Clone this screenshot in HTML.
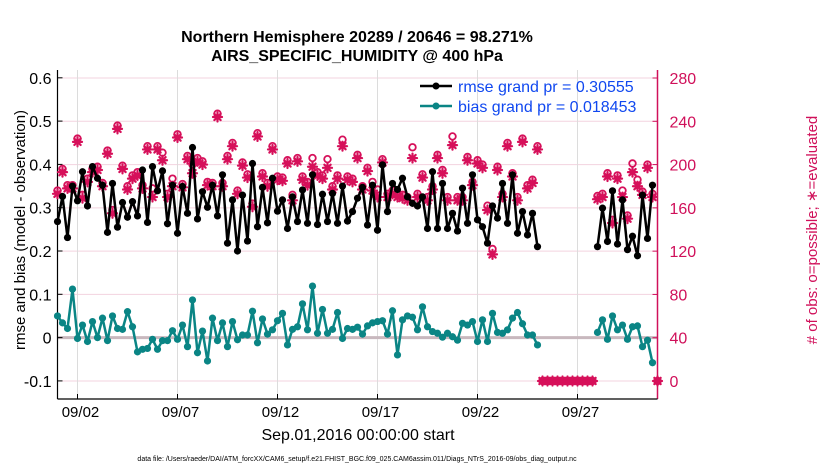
<!DOCTYPE html>
<html><head><meta charset="utf-8"><style>
html,body{margin:0;padding:0;background:#fff;}
svg{display:block;font-family:"Liberation Sans",Arial,sans-serif;}
</style></head><body>
<svg id="chart" width="830" height="470" viewBox="0 0 830 470">
<g id="grid"></g>
<g id="axes"></g>
<g id="marks"></g>
<text x="357" y="42" text-anchor="middle" font-size="16" font-weight="bold">Northern Hemisphere 20289 / 20646 = 98.271%</text>
<text x="357" y="61" text-anchor="middle" font-size="16" font-weight="bold">AIRS_SPECIFIC_HUMIDITY @ 400 hPa</text>
<text transform="translate(25,230) rotate(-90)" text-anchor="middle" font-size="15">rmse and bias (model - observation)</text>
<text transform="translate(817,230) rotate(-90)" text-anchor="middle" font-size="15" fill="#d0105a"># of obs: o=possible; ∗=evaluated</text>
<text x="358" y="440" text-anchor="middle" font-size="16">Sep.01,2016 00:00:00 start</text>
<text x="357" y="461" text-anchor="middle" font-size="7">data file: /Users/raeder/DAI/ATM_forcXX/CAM6_setup/f.e21.FHIST_BGC.f09_025.CAM6assim.011/Diags_NTrS_2016-09/obs_diag_output.nc</text>
<g>
<line x1="420" y1="86" x2="452" y2="86" stroke="#000" stroke-width="2.5"/>
<circle cx="436" cy="86" r="3.5" fill="#000"/>
<text x="458" y="92" font-size="16" fill="#1048f0">rmse grand pr = 0.30555</text>
<line x1="420" y1="106" x2="452" y2="106" stroke="#0a8585" stroke-width="2.5"/>
<circle cx="436" cy="106" r="3.5" fill="#0a8585"/>
<text x="458" y="112" font-size="16" fill="#1048f0">bias grand pr = 0.018453</text>
</g>
</svg>
<script>
const leftTicks = [0.6,0.5,0.4,0.3,0.2,0.1,0,-0.1];
const leftTickLabels = ["0.6","0.5","0.4","0.3","0.2","0.1","0","-0.1"];
const rightTicks = [0,40,80,120,160,200,240,280];
const xTickDays = [1,6,11,16,21,26];
const xTickLabels = ["09/02","09/07","09/12","09/17","09/22","09/27"];
const rmse = [0.268,0.326,0.231,0.350,0.316,0.383,0.304,0.395,0.368,0.352,0.243,0.356,0.255,0.312,0.278,0.314,0.281,0.387,0.266,0.395,0.339,0.385,0.263,0.352,0.241,0.349,0.287,0.439,0.274,0.337,0.301,0.352,0.281,0.376,0.218,0.318,0.200,0.329,0.223,0.402,
0.256,0.347,0.265,0.368,0.292,0.318,0.252,0.325,0.268,0.341,0.264,0.376,0.261,0.331,0.268,0.333,0.264,0.350,0.269,0.291,0.322,0.347,0.260,0.352,0.248,0.399,0.291,0.356,0.342,0.368,0.325,0.310,0.304,0.325,0.252,0.383,0.252,0.356,
0.252,0.287,0.246,0.345,0.264,0.376,0.272,0.256,0.218,0.304,0.276,0.356,0.264,0.376,0.241,0.291,0.237,0.287,0.210,
null,null,null,null,null,null,null,null,null,null,null,
0.210,0.299,0.222,0.339,0.216,0.318,0.203,0.234,0.189,0.329,0.229,0.352,null];
const bias = [0.050,0.034,0.021,0.112,-0.002,0.029,-0.009,0.037,0.000,0.045,-0.007,0.050,0.021,0.019,0.060,0.025,-0.033,-0.027,-0.025,-0.004,-0.027,-0.007,-0.007,0.016,-0.004,0.029,-0.021,0.087,-0.035,0.015,-0.054,0.045,-0.007,0.034,-0.021,0.037,-0.005,0.006,0.006,0.061,
-0.012,0.043,0.008,0.018,0.039,0.056,-0.017,0.019,0.025,0.078,0.018,0.119,0.010,0.065,0.010,0.019,0.058,-0.002,0.021,0.019,0.024,0.008,0.027,0.034,0.037,0.039,0.008,0.062,-0.040,0.041,0.050,0.047,0.018,0.071,0.025,0.014,0.010,0.001,
0.010,0.002,-0.006,0.033,0.029,0.037,-0.009,0.041,-0.009,0.056,0.012,0.010,0.018,0.045,0.058,0.032,0.006,0.006,-0.017,
null,null,null,null,null,null,null,null,null,null,null,
0.012,0.041,-0.004,0.050,0.018,0.029,-0.004,0.025,0.027,-0.021,-0.006,-0.058,null];
const evaluated = [173,193,178,178,221,169,184,193,195,180,210,155,233,196,177,187,190,178,214,170,214,204,170,180,225,179,205,192,203,200,181,180,244,180,205,217,173,199,188,161,
226,189,180,214,186,185,201,167,203,186,181,198,190,187,197,177,187,217,186,184,206,177,194,176,170,202,170,173,170,169,167,206,170,188,167,177,206,192,
167,218,167,167,204,181,201,197,158,117,195,170,217,189,167,221,178,183,214,
0,0,0,0,0,0,0,0,0,0,0,
168,170,189,146,187,170,150,193,180,172,197,170,0];
const possible = [176,196,181,181,224,172,187,196,198,183,213,158,236,199,180,190,193,181,217,178,217,211,173,187,228,182,208,200,206,203,184,183,247,183,208,220,176,202,191,164,
229,192,183,217,189,188,204,172,206,189,184,206,193,190,205,180,190,223,189,187,209,180,197,184,177,205,173,176,173,172,170,216,173,191,170,180,209,195,
170,226,170,170,207,184,204,200,162,122,198,173,220,192,170,224,181,186,217,
0,0,0,0,0,0,0,0,0,0,0,
171,173,192,149,190,176,153,201,186,175,200,173,0];

const NS="http://www.w3.org/2000/svg";
const X0=57.5, X1=657.5, YT=70, YB=399;
function xIdx(i){return X0 + i*(X1-X0)/120;}
function xDay(d){return X0 + d*20;}
function yL(v){return 337.6 - v*433;}
function yR(n){return 381 - n*1.0821;}
function mk(tag,attrs,parent){const e=document.createElementNS(NS,tag);for(const k in attrs)e.setAttribute(k,attrs[k]);parent.appendChild(e);return e;}
const grid=document.getElementById('grid'), axes=document.getElementById('axes'), marks=document.getElementById('marks');

rightTicks.forEach(function(n){
  const l=mk('line',{x1:X0,x2:X1,y1:yR(n),y2:yR(n),stroke:'#f3d3df','stroke-width':1},grid);
  
  
});
xTickDays.forEach(function(d){
  const l=mk('line',{x1:xDay(d),x2:xDay(d),y1:YT,y2:YB,stroke:'#dcdcdc','stroke-width':1},grid);
  
  
});
const z=mk('line',{x1:X0,x2:X1,y1:yL(0),y2:yL(0),stroke:'#c8b8be','stroke-width':3},grid);



const la=mk('line',{x1:X0,x2:X0,y1:YT,y2:YB,stroke:'#000','stroke-width':1.2},axes);


const ra=mk('line',{x1:X1,x2:X1,y1:YT,y2:YB,stroke:'#d0105a','stroke-width':1.5},axes);


const ba=mk('line',{x1:X0,x2:X1,y1:YB,y2:YB,stroke:'#000','stroke-width':1.2},axes);


leftTicks.forEach(function(v,k){
  mk('line',{x1:X0,x2:X0+5,y1:yL(v),y2:yL(v),stroke:'#000'},axes);
  const t=mk('text',{x:X0-6,y:yL(v)+6,'text-anchor':'end','font-size':16},axes);
  t.textContent=leftTickLabels[k];
  
  
});
rightTicks.forEach(function(n){
  mk('line',{x1:X1-5,x2:X1,y1:yR(n),y2:yR(n),stroke:'#d0105a'},axes);
  const t=mk('text',{x:X1+12,y:yR(n)+6,'font-size':16,fill:'#d0105a'},axes);
  t.textContent=String(n);
  
  
});
xTickDays.forEach(function(d,k){
  mk('line',{x1:xDay(d),x2:xDay(d),y1:YB-5,y2:YB,stroke:'#000'},axes);
  const t=mk('text',{x:xDay(d)+3,y:YB+18,'text-anchor':'middle','font-size':15},axes);
  t.textContent=xTickLabels[k];
  
  
});

const pink='#d6105a';
for(let i=0;i<evaluated.length;i++){
  const x=xIdx(i), y=yR(evaluated[i]);
  const g=mk('g',{stroke:pink,'stroke-width':2.2,'stroke-linecap':'round'},marks);
  
  
  const r=4.5;
  mk('line',{x1:x-r,x2:x+r,y1:y,y2:y},g);
  mk('line',{x1:x,x2:x,y1:y-r,y2:y+r},g);
  mk('line',{x1:x-r*0.7,x2:x+r*0.7,y1:y-r*0.7,y2:y+r*0.7},g);
  mk('line',{x1:x-r*0.7,x2:x+r*0.7,y1:y+r*0.7,y2:y-r*0.7},g);
  const c=mk('circle',{cx:x,cy:yR(possible[i]),r:3.3,fill:'none',stroke:pink,'stroke-width':1.8},marks);
  
  
}

function series(vals,color,name){
  let d='', pen=false;
  vals.forEach(function(v,i){
    if(v===null){pen=false;return;}
    d+=(pen?'L':'M')+xIdx(i).toFixed(1)+' '+yL(v).toFixed(1)+' ';pen=true;
  });
  const p=mk('path',{d:d,fill:'none',stroke:color,'stroke-width':2.5,'stroke-linejoin':'round'},marks);
  
  
  vals.forEach(function(v,i){
    if(v===null)return;
    const c=mk('circle',{cx:xIdx(i),cy:yL(v),r:3.6,fill:color},marks);
    
    
  });
}
series(rmse,'#000','rmse');
series(bias,'#0a8585','bias');
</script>
</body></html>
